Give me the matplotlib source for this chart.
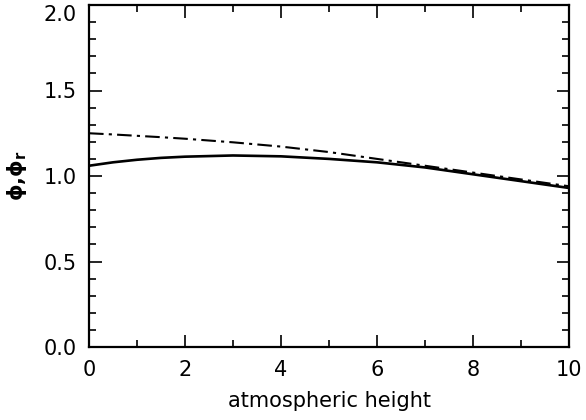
import matplotlib

matplotlib.use("Agg")
import matplotlib.pyplot as plt
from matplotlib.ticker import MultipleLocator
from matplotlib.transforms import ScaledTranslation

height = [0, 0.5, 1, 1.5, 2, 3, 4, 5, 6, 7, 8, 9, 10]
phi = [1.06, 1.08, 1.095, 1.106, 1.113, 1.12, 1.115, 1.10, 1.08, 1.05, 1.01, 0.97, 0.93]
phi_r = [1.25, 1.243, 1.235, 1.227, 1.218, 1.197, 1.172, 1.14, 1.10, 1.06, 1.02, 0.98, 0.94]

plt.rcParams.update({"font.family": "DejaVu Sans", "mathtext.fontset": "dejavusans"})

fig = plt.figure(figsize=(5.86, 4.20), dpi=100, facecolor="white")
ax = fig.add_axes([89 / 586, 1 - 347 / 420, 480 / 586, 342 / 420])

ax.plot(height, phi, color="black", lw=1.9)
ax.plot(height, phi_r, color="black", lw=1.5, linestyle=(0, (7, 2.5, 1.5, 2.5)))

ax.set_xlim(0, 10)
ax.set_ylim(0, 2.0)
ax.xaxis.set_major_locator(MultipleLocator(2))
ax.xaxis.set_minor_locator(MultipleLocator(1))
ax.yaxis.set_major_locator(MultipleLocator(0.5))
ax.yaxis.set_minor_locator(MultipleLocator(0.1))
ax.yaxis.set_major_formatter(lambda v, _p: f"{v:.1f}")

for s in ax.spines.values():
    s.set_linewidth(1.6)
ax.tick_params(which="both", direction="in", top=True, right=True, width=1.2, labelsize=15, colors="black")
ax.tick_params(which="major", length=9, pad=9)
ax.tick_params(which="minor", length=5)

ax.set_xlabel("atmospheric height", fontsize=15, labelpad=8)
ax.set_ylabel("\u03d5,\u03d5$_\\mathbf{r}$", fontsize=15, fontweight="bold", labelpad=10)

# the top label sits a little lower so it stays inside the canvas
fig.canvas.draw()
for tick in ax.yaxis.get_major_ticks():
    if abs(tick.get_loc() - 2.0) < 1e-6:
        lab = tick.label1
        lab.set_transform(lab.get_transform() + ScaledTranslation(0, -8 / 100, fig.dpi_scale_trans))

fig.savefig("out.png", dpi=100, facecolor="white")
